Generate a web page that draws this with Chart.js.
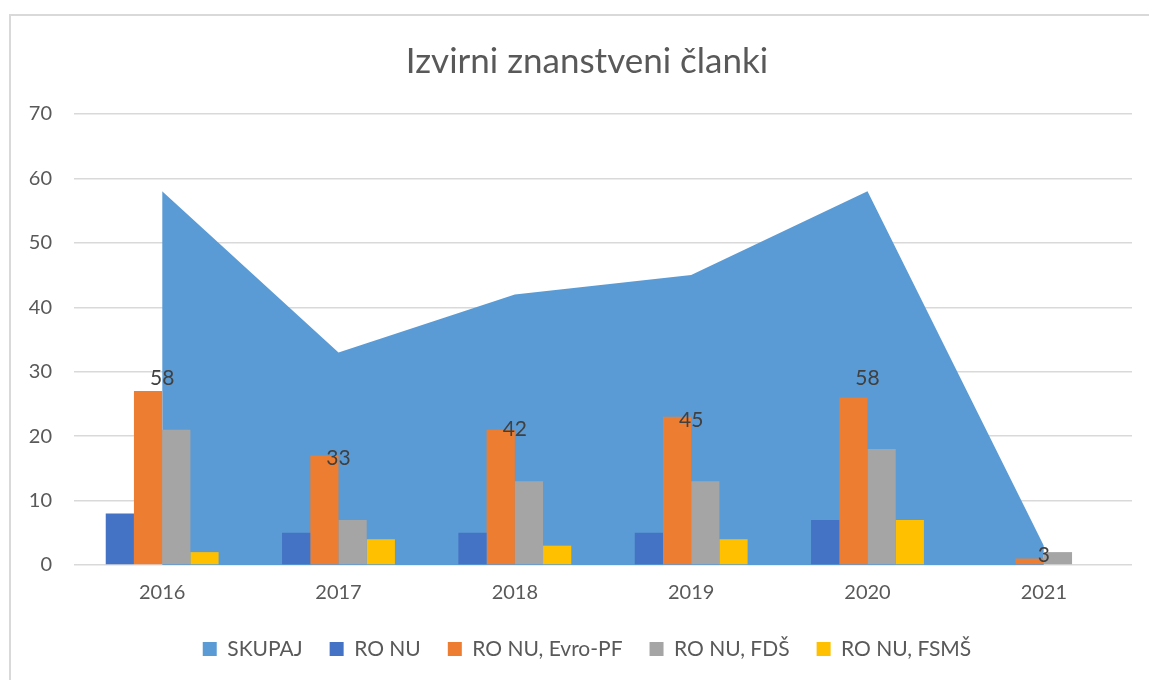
<!DOCTYPE html>
<html>
<head>
<meta charset="utf-8">
<script src="https://cdn.jsdelivr.net/npm/chart.js@4/dist/chart.umd.min.js"></script>
<style>
  html, body { margin: 0; padding: 0; background: #fff; }
  #wrap { width: 1149px; height: 680px; }
</style>
</head>
<body>
<div id="wrap"><canvas id="chart" width="1149" height="680"></canvas></div>
<script>
const years = ["2016", "2017", "2018", "2019", "2020", "2021"]
const skupaj = [58, 33, 42, 45, 58, 3]
const roNu = [8, 5, 5, 5, 7, 0]
const evroPf = [27, 17, 21, 23, 26, 1]
const fds = [21, 7, 13, 13, 18, 2]
const fsms = [2, 4, 3, 4, 7, 0]
const yTicks = [0, 10, 20, 30, 40, 50, 60, 70]

const FONT = "Lato, 'Open Sans', sans-serif"
const TEXT = "#595959"

// outer frame of the chart object
const frame = {
  id: "frame",
  beforeDraw(chart) {
    const { ctx } = chart
    ctx.save()
    ctx.fillStyle = "#fff"
    ctx.fillRect(0, 0, chart.width, chart.height)
    ctx.strokeStyle = "#d9d9d9"
    ctx.lineWidth = 2
    ctx.strokeRect(10, 15, chart.width + 20, chart.height + 20)
    ctx.restore()
  }
}

// title and legend are centred on the (wider) frame, not the canvas
const shiftBlocks = {
  id: "shiftBlocks",
  afterLayout(chart) {
    for (const box of [chart.titleBlock, chart.legend]) {
      if (!box) continue
      box.left += 21
      box.right += 21
    }
  }
}

// SKUPAJ labels sit in the middle of the area
const midLabels = {
  id: "midLabels",
  afterDatasetsDraw(chart) {
    const { ctx } = chart
    const meta = chart.getDatasetMeta(0)
    const y = chart.scales.y
    ctx.save()
    ctx.font = "21px " + FONT
    ctx.fillStyle = "#404040"
    ctx.textAlign = "center"
    ctx.textBaseline = "middle"
    meta.data.forEach((pt, i) => {
      ctx.fillText(String(skupaj[i]), pt.x, y.getPixelForValue(skupaj[i] / 2))
    })
    ctx.restore()
  }
}

const bar = (label, data, color) => ({
  type: "bar", label, data, backgroundColor: color, order: 0,
  categoryPercentage: 0.64, barPercentage: 1.0
})

new Chart(document.getElementById("chart"), {
  data: {
    labels: years,
    datasets: [
      { type: "line", label: "SKUPAJ", data: skupaj, backgroundColor: "#5b9bd5", borderColor: "#5b9bd5",
        borderWidth: 0, pointRadius: 0, fill: "origin", tension: 0, order: 5 },
      bar("RO NU", roNu, "#4472c4"),
      bar("RO NU, Evro-PF", evroPf, "#ed7d31"),
      bar("RO NU, FDŠ", fds, "#a5a5a5"),
      bar("RO NU, FSMŠ", fsms, "#ffc000")
    ]
  },
  options: {
    responsive: false, animation: false,
    layout: { padding: { left: 0, right: 17, top: 0, bottom: 10.5 } },
    plugins: {
      title: { display: true, text: "Izvirni znanstveni članki", color: TEXT,
        font: { family: FONT, size: 35, weight: "normal" }, padding: { top: 41, bottom: 31 } },
      legend: {
        position: "bottom",
        labels: {
          color: TEXT, font: { family: FONT, size: 21 }, boxWidth: 14, boxHeight: 14, padding: 27,
          sort: (a, b) => a.datasetIndex - b.datasetIndex,
          generateLabels: chart => chart.data.datasets.map((ds, i) => ({
            text: ds.label, fillStyle: ds.backgroundColor, strokeStyle: ds.backgroundColor,
            lineWidth: 0, datasetIndex: i, fontColor: TEXT
          }))
        }
      },
      tooltip: { enabled: false }
    },
    scales: {
      x: {
        offset: true,
        afterFit: s => { s.height = 46.5 },
        grid: { display: false, drawTicks: false },
        border: { display: false },
        ticks: { color: TEXT, font: { family: FONT, size: 20 }, padding: 16 }
      },
      y: {
        min: 0, max: 70,
        afterBuildTicks: s => { s.ticks = yTicks.map(v => ({ value: v })) },
        afterFit: s => { s.width = 74 },
        grid: { color: "#d9d9d9", lineWidth: 1.5, drawTicks: false },
        border: { display: false },
        ticks: { color: TEXT, font: { family: FONT, size: 20 }, padding: 22 }
      }
    }
  },
  plugins: [frame, shiftBlocks, midLabels]
})
</script>
</body>
</html>
